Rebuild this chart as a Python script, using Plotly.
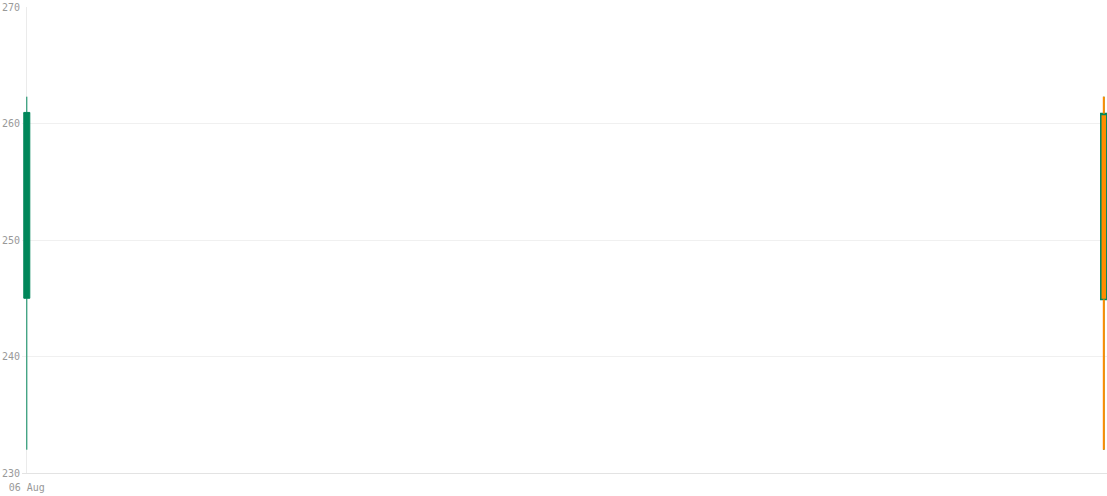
import plotly.graph_objects as go

# 資料
dates = ['2024-08-06', '2024-08-07']
open_prices = [245.0, 244.9]
high_prices = [262.3, 262.3]
low_prices = [232.0, 232.0]
close_prices = [260.95, 260.85]

y_ticks = [230, 240, 250, 260, 270]

GREEN = '#00875A'
ORANGE = '#FF8C00'
TICK_FONT = dict(family='DejaVu Sans Mono', size=10, color='#999999')

fig = go.Figure()

# 已完成的K棒
fig.add_trace(go.Candlestick(
    x=dates[:1],
    open=open_prices[:1], high=high_prices[:1],
    low=low_prices[:1], close=close_prices[:1],
    increasing=dict(line=dict(color=GREEN, width=1), fillcolor=GREEN),
    decreasing=dict(line=dict(color=ORANGE, width=1), fillcolor=ORANGE),
    hoverinfo='skip',
))

# 最新一根 (橘色填色，綠色外框)
fig.add_trace(go.Candlestick(
    x=dates[-1:],
    open=open_prices[-1:], high=high_prices[-1:],
    low=low_prices[-1:], close=close_prices[-1:],
    increasing=dict(line=dict(color=GREEN, width=1.5), fillcolor=ORANGE),
    decreasing=dict(line=dict(color=GREEN, width=1.5), fillcolor=ORANGE),
    hoverinfo='skip',
))

# 最新一根的橘色影線
body_top = max(open_prices[-1], close_prices[-1])
body_bottom = min(open_prices[-1], close_prices[-1])
fig.add_trace(go.Scatter(
    x=[dates[-1], dates[-1], None, dates[-1], dates[-1]],
    y=[high_prices[-1], body_top, None, body_bottom, low_prices[-1]],
    mode='lines',
    line=dict(color=ORANGE, width=2),
    hoverinfo='skip',
))

fig.update_layout(
    width=1107,
    height=496,
    margin=dict(l=22, r=0, t=7, b=23),
    paper_bgcolor='white',
    plot_bgcolor='white',
    showlegend=False,
    boxgap=0.9944,
    boxgroupgap=0,
    font=TICK_FONT,
)

fig.update_xaxes(
    type='date',
    range=['2024-08-05 23:53:35', '2024-08-07 00:04:17'],
    tickvals=dates[:1],
    tickformat='%d %b',
    ticklabelstandoff=5,
    showgrid=True,
    gridcolor='#ebebeb',
    gridwidth=1,
    showline=True,
    linecolor='#e3e3e3',
    linewidth=1,
    zeroline=False,
    automargin=False,
    rangeslider=dict(visible=False),
    tickfont=TICK_FONT,
)

fig.update_yaxes(
    range=[230, 270],
    tickvals=y_ticks,
    ticklabelstandoff=1,
    showgrid=True,
    gridcolor='#f0f0f0',
    gridwidth=1,
    zeroline=False,
    showline=False,
    automargin=False,
    tickfont=TICK_FONT,
)

fig.write_html(
    "out.html",
    config={'displayModeBar': False},
    post_script="document.body.style.margin='0';",
)
